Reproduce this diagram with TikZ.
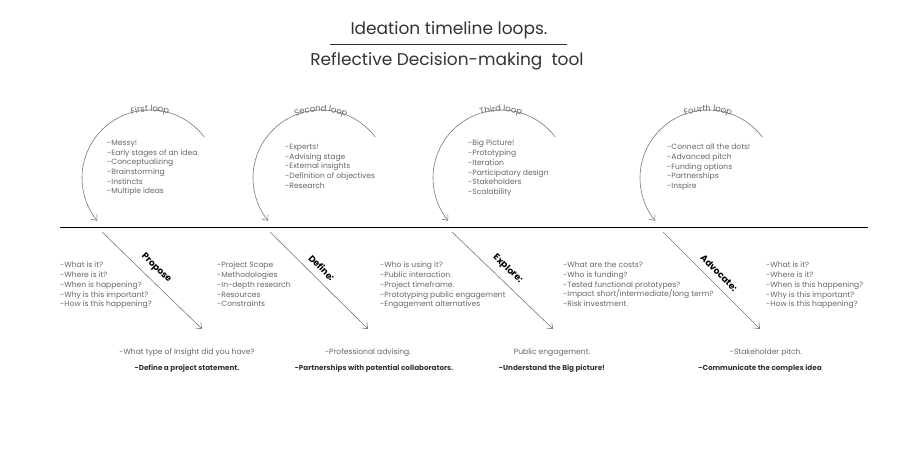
\documentclass[tikz,border=0pt]{standalone}
\usepackage{fontspec}
\setmainfont{Poppins}
\usepackage{xcolor}
\usepackage{tikz}
\usetikzlibrary{arrows.meta, positioning, calc, decorations.text}
\definecolor{txtgray}{HTML}{666666}
\definecolor{linegray}{HTML}{777777}
\definecolor{titlegray}{HTML}{333333}
\newcommand\notefont{\fontsize{7.6}{9.7}\selectfont}
\newcommand\looplabelfont{\fontsize{8.5}{10}\selectfont}
\newcommand\stagefont{\fontsize{9}{11}\selectfont\bfseries}
\tikzstyle{note} = [align=left, anchor=north west, inner sep=0pt, text=txtgray, font=\notefont]
\tikzstyle{summary} = [inner sep=0pt, text=txtgray, font=\notefont]
\tikzstyle{goal} = [inner sep=0pt, text=titlegray, font=\fontsize{7.2}{9}\selectfont\bfseries]
\tikzstyle{stage} = [inner sep=0pt, sloped, above=7pt, font=\stagefont]
\tikzstyle{loop} = [draw=linegray, line width=0.6pt, -{Straight Barb[length=5pt,width=8pt]}]
\tikzstyle{arrow} = [draw=linegray, line width=0.6pt, -{Straight Barb[length=5pt,width=8pt]}]

\begin{document}
\begin{tikzpicture}[x=1pt, y=1pt]
    \useasboundingbox (0,0) rectangle (900,-449);

    % title
    \node (t1) [text=titlegray, font=\fontsize{17}{20}\selectfont] at (449,-30) {Ideation timeline loops.};
    \node (t2) [text=titlegray, font=\fontsize{17}{20}\selectfont] at (447,-61) {Reflective Decision-making\ \ tool};
    \coordinate (tl) at (330,-44);
    \coordinate (tr) at (567,-44);
    \draw [titlegray, line width=0.6pt] (tl) -- (tr);

    % timeline
    \coordinate (start) at (60,-227);
    \coordinate (end) at (868,-227);
    \draw [line width=0.7pt] (start) -- (end);

    % loops
    \coordinate (c1) at (150,-178);
    \coordinate (c2) at (321,-178);
    \coordinate (c3) at (501,-178);
    \coordinate (c4) at (708,-178);
    \draw [loop] (c1) ++(37:68) arc (37:219:68);
    \draw [loop] (c2) ++(37:68) arc (37:219:68);
    \draw [loop] (c3) ++(37:68) arc (37:219:68);
    \draw [loop] (c4) ++(37:68) arc (37:219:68);
    \path [decorate, decoration={text along path, text align=center, raise=-1.5pt,
        text={|\looplabelfont\color{txtgray}|First loop}}] (c1) ++(130:68) arc (130:50:68);
    \path [decorate, decoration={text along path, text align=center, raise=-1.5pt,
        text={|\looplabelfont\color{txtgray}|Second loop}}] (c2) ++(130:68) arc (130:50:68);
    \path [decorate, decoration={text along path, text align=center, raise=-1.5pt,
        text={|\looplabelfont\color{txtgray}|Third loop}}] (c3) ++(130:68) arc (130:50:68);
    \path [decorate, decoration={text along path, text align=center, raise=-1.5pt,
        text={|\looplabelfont\color{txtgray}|Fourth loop}}] (c4) ++(130:68) arc (130:50:68);

    \node (l1) [note] at (107,-140) {-Messy!\\-Early stages of an idea\\-Conceptualizing\\-Brainstorming\\-Instincts\\-Multiple ideas};
    \node (l2) [note] at (285,-144) {-Experts!\\-Advising stage\\-External insights\\-Definition of objectives\\-Research};
    \node (l3) [note] at (468,-140) {-Big Picture!\\-Prototyping\\-Iteration\\-Participatory design\\-Stakeholders\\-Scalability};
    \node (l4) [note] at (667,-144) {-Connect all the dots!\\-Advanced pitch\\-Funding options\\-Partnerships\\-Inspire};

    % stages
    \coordinate (s1) at (102,-232);
    \coordinate (e1) at (202,-329);
    \coordinate (s2) at (270,-232);
    \coordinate (e2) at (368,-329);
    \coordinate (s3) at (452,-232);
    \coordinate (e3) at (553,-329);
    \coordinate (s4) at (663,-232);
    \coordinate (e4) at (760,-329);
    \draw [arrow] (s1) -- node (k1) [stage, pos=0.46] {Propose} (e1);
    \draw [arrow] (s2) -- node (k2) [stage, pos=0.45] {Define:} (e2);
    \draw [arrow] (s3) -- node (k3) [stage, pos=0.47] {Explore:} (e3);
    \draw [arrow] (s4) -- node (k4) [stage, pos=0.5] {Advocate:} (e4);

    % questions
    \node (q1) [note] at (60,-262) {-What is it?\\-Where is it?\\-When is happening?\\-Why is this important?\\-How is this happening?};
    \node (q2) [note] at (217,-262) {-Project Scope\\-Methodologies\\-In-depth research\\-Resources\\-Constraints};
    \node (q3) [note] at (380,-262) {-Who is using it?\\-Public interaction.\\-Project timeframe.\\-Prototyping public engagement\\-Engagement alternatives};
    \node (q4) [note] at (563,-262) {-What are the costs?\\-Who is funding?\\-Tested functional prototypes?\\-Impact short/intermediate/long term?\\-Risk investment.};
    \node (q5) [note] at (766,-262) {-What is it?\\-Where is it?\\-When is this happening?\\-Why is this important?\\-How is this happening?};

    % outcomes
    \node (o1) [summary] at (187,-353) {-What type of Insight did you have?};
    \node (o2) [summary] at (368,-353) {-Professional advising.};
    \node (o3) [summary] at (552,-353) {Public engagement.};
    \node (o4) [summary] at (766,-353) {-Stakeholder pitch.};
    \node (g1) [goal] at (187,-369) {-Define a project statement.};
    \node (g2) [goal] at (374,-369) {-Partnerships with potential collaborators.};
    \node (g3) [goal] at (552,-369) {-Understand the Big picture!};
    \node (g4) [goal] at (760,-369) {-Communicate the complex idea};
\end{tikzpicture}
\end{document}
